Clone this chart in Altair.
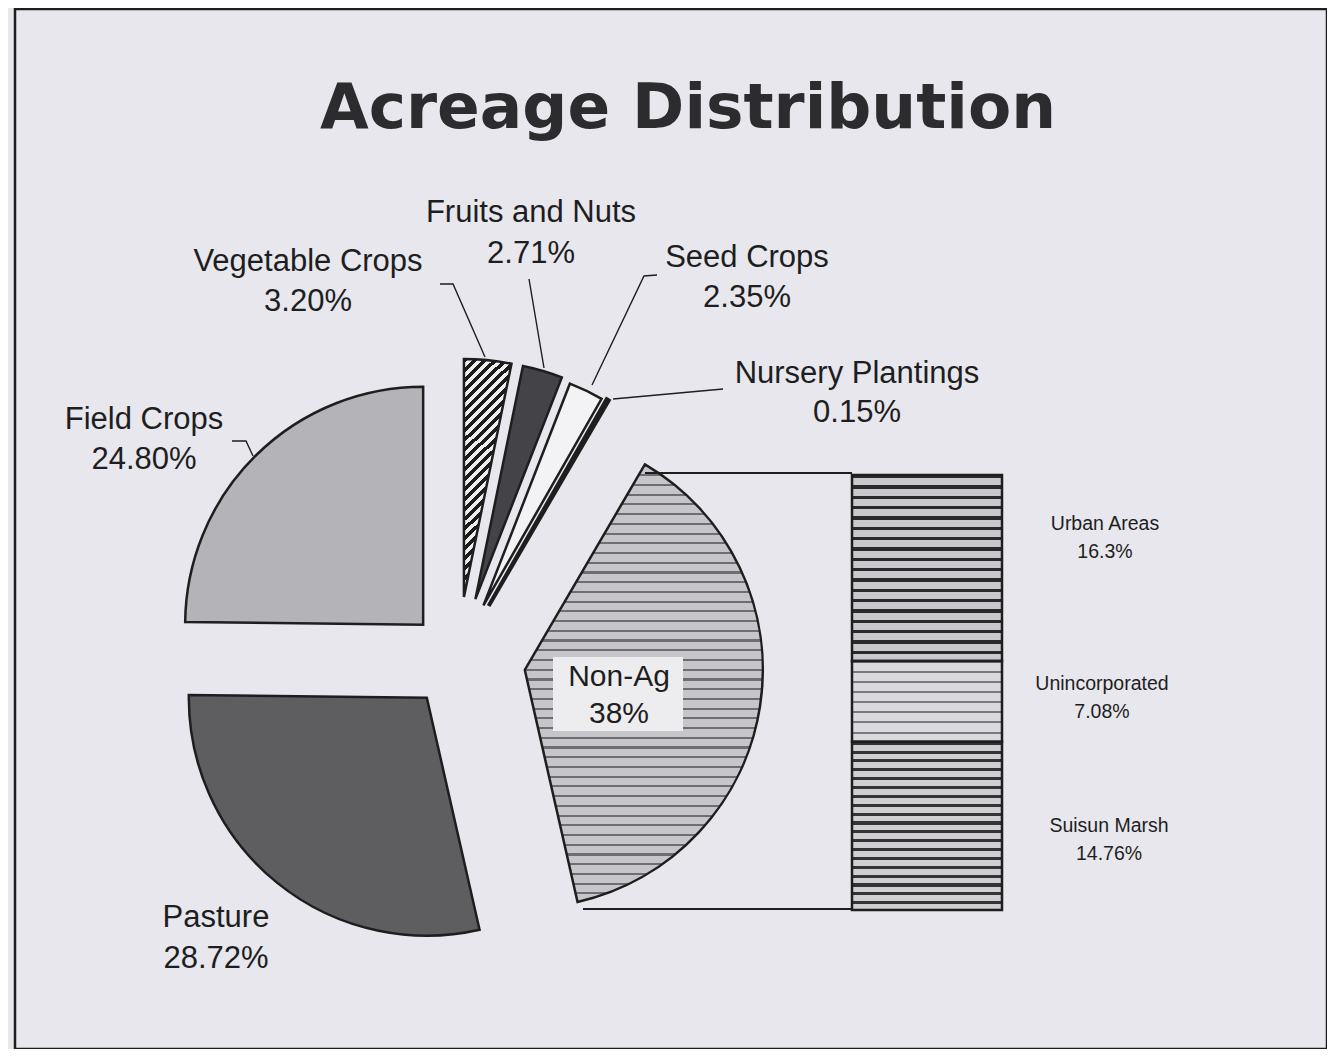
import altair as alt
import pandas as pd

# ---------------- data ----------------
title_text = "Acreage Distribution"

pie_categories = ["Vegetable Crops", "Fruits and Nuts", "Seed Crops",
                  "Nursery Plantings", "Non-Ag", "Pasture", "Field Crops"]
pie_values = [3.20, 2.71, 2.35, 0.15, 38.0, 28.72, 24.80]
pie_pct_labels = ["3.20%", "2.71%", "2.35%", "0.15%", "38%", "28.72%", "24.80%"]

bar_categories = ["Urban Areas", "Unincorporated", "Suisun Marsh"]
bar_values = [16.3, 7.08, 14.76]
bar_pct_labels = ["16.3%", "7.08%", "14.76%"]

# ---------------- layout / style ----------------
OX, OY = 15, 9          # page position of the plot origin (frame corner)
W, H = 1312, 1040
BG = "#e7e7ed"
INK = "#1e1e1e"


def P(x, y):
    return x - OX, y - OY


PIE_CX, PIE_CY = P(457.6, 659.6)
PIE_R = 238
explode = {"Vegetable Crops": 63, "Fruits and Nuts": 63, "Seed Crops": 60,
           "Nursery Plantings": 62, "Non-Ag": 68, "Pasture": 49, "Field Crops": 49}
stroke_w = {"Nursery Plantings": 4.0}

BAR_X0, BAR_X1 = 852 - OX, 1002 - OX
BAR_TOP, BAR_BOTTOM = 475 - OY, 910 - OY


def stripes(n, dark, light, frac, x2=0.0, y2=1.0):
    stops = []
    for i in range(n):
        a, b, c = i / n, (i + frac) / n, (i + 1) / n
        stops += [alt.GradientStop(offset=round(a, 5), color=dark),
                  alt.GradientStop(offset=round(b, 5), color=dark),
                  alt.GradientStop(offset=round(b, 5), color=light),
                  alt.GradientStop(offset=round(c, 5), color=light)]
    return alt.LinearGradient(gradient="linear", stops=stops, x1=0, y1=0, x2=x2, y2=y2)


fills = {
    "Vegetable Crops": stripes(25, "#1c1c1c", "#eeeeee", 0.5, x2=0.196, y2=1.0),
    "Fruits and Nuts": "#444448",
    "Seed Crops": "#f3f3f6",
    "Nursery Plantings": "#2a2a2a",
    "Non-Ag": stripes(45, "#6e6e72", "#c6c6ca", 0.22),
    "Pasture": "#5e5e61",
    "Field Crops": "#b4b4b8",
    "Urban Areas": stripes(18, "#2a2a2a", "#c9c9cd", 0.32),
    "Unincorporated": stripes(8, "#7a7a7e", "#dadade", 0.2),
    "Suisun Marsh": stripes(19, "#333333", "#cfcfd3", 0.35),
}

label_pos = {  # page coords: centre x, baseline of line 1, baseline of line 2
    "Field Crops": (144, 429, 469),
    "Pasture": (216, 927, 968),
    "Vegetable Crops": (308, 271, 311),
    "Fruits and Nuts": (531, 222, 263),
    "Seed Crops": (747, 267, 307),
    "Nursery Plantings": (857, 383, 422),
    "Non-Ag": (619, 686, 723),
    "Urban Areas": (1105, 530, 558),
    "Unincorporated": (1102, 690, 718),
    "Suisun Marsh": (1109, 832, 860),
}

leaders = {  # annotation leader lines, page coords
    "Field Crops": [(232, 441), (246, 441), (253, 456)],
    "Vegetable Crops": [(440, 284), (453, 284), (485, 357)],
    "Fruits and Nuts": [(529, 279), (544, 368)],
    "Seed Crops": [(657, 275), (644, 276), (592, 385)],
    "Nursery Plantings": [(723, 389), (613, 399)],
}
connectors = {
    "top": [(645, 473), (852, 473)],
    "bottom": [(583, 909), (851, 909)],
}

# ---------------- tables ----------------
pie_df = pd.DataFrame({"category": pie_categories, "value": pie_values,
                       "order": list(range(len(pie_categories)))})
pie_df["explode"] = pie_df["category"].map(explode)

bar_df = pd.DataFrame({"category": bar_categories, "value": bar_values,
                       "stack_order": [2, 1, 0]})
BAR_TOTAL = float(sum(bar_values))

rows = []
for cat, pct in list(zip(pie_categories, pie_pct_labels)) + list(zip(bar_categories, bar_pct_labels)):
    x, y1, y2 = label_pos[cat]
    grp = "bar" if cat in bar_categories else ("inner" if cat == "Non-Ag" else "main")
    rows.append({"text": cat, "x": x - OX, "y": y1 - OY, "grp": grp})
    rows.append({"text": pct, "x": x - OX, "y": y2 - OY, "grp": grp})
lab_df = pd.DataFrame(rows)

line_rows = []
for name, pts in leaders.items():
    for k, (x, y) in enumerate(pts):
        line_rows.append({"id": name, "k": k, "x": x - OX, "y": y - OY})
lead_df = pd.DataFrame(line_rows)
conn_rows = []
for name, pts in connectors.items():
    for k, (x, y) in enumerate(pts):
        conn_rows.append({"id": name, "k": k, "x": x - OX, "y": y - OY})
conn_df = pd.DataFrame(conn_rows)

# ---------------- pie (exploded) ----------------
pie_base = (
    alt.Chart(pie_df)
    .transform_joinaggregate(total="sum(value)")
    .transform_window(cum="sum(value)", sort=[alt.SortField("order")], frame=[None, 0])
    .transform_calculate(t0="(datum.cum - datum.value) / datum.total * 2 * PI")
    .transform_calculate(t1="datum.cum / datum.total * 2 * PI")
    .transform_calculate(mid="(datum.t0 + datum.t1) / 2")
    .transform_calculate(cx=f"{PIE_CX} + datum.explode * sin(datum.mid)")
    .transform_calculate(cy=f"{PIE_CY} - datum.explode * cos(datum.mid)")
)

layers = []
for cat in pie_categories:
    layers.append(
        pie_base.transform_filter(alt.datum.category == cat)
        .mark_arc(radius=PIE_R, fill=fills[cat], stroke=INK,
                  strokeWidth=stroke_w.get(cat, 2.5), strokeJoin="miter")
        .encode(
            x=alt.X("cx:Q", scale=None, axis=None),
            y=alt.Y("cy:Q", scale=None, axis=None),
            theta=alt.Theta("t0:Q", scale=None),
            theta2=alt.Theta2("t1:Q"),
        )
    )

# ---------------- bar of pie ----------------
bar_base = (
    alt.Chart(bar_df)
    .transform_window(cum="sum(value)", sort=[alt.SortField("stack_order")], frame=[None, 0])
    .transform_calculate(lo="datum.cum - datum.value")
)
for cat in bar_categories:
    layers.append(
        bar_base.transform_filter(alt.datum.category == cat)
        .mark_rect(fill=fills[cat], stroke=INK, strokeWidth=2.5)
        .encode(
            x=alt.value(BAR_X0), x2=alt.value(BAR_X1),
            y=alt.Y("lo:Q", axis=None,
                    scale=alt.Scale(domain=[0, BAR_TOTAL], range=[BAR_BOTTOM, BAR_TOP])),
            y2=alt.Y2("cum:Q"),
        )
    )

# connector lines and leader lines
layers.append(
    alt.Chart(conn_df).mark_line(stroke=INK, strokeWidth=2.2).encode(
        x=alt.X("x:Q", scale=None, axis=None), y=alt.Y("y:Q", scale=None, axis=None),
        detail="id:N", order="k:Q")
)
layers.append(
    alt.Chart(lead_df).mark_line(stroke=INK, strokeWidth=1.4).encode(
        x=alt.X("x:Q", scale=None, axis=None), y=alt.Y("y:Q", scale=None, axis=None),
        detail="id:N", order="k:Q")
)

# Non-Ag label backdrop
layers.append(
    alt.Chart(pd.DataFrame({"a": [0]})).mark_rect(fill="#ededf0").encode(
        x=alt.value(553 - OX), x2=alt.value(683 - OX),
        y=alt.value(657 - OY), y2=alt.value(731 - OY))
)

# texts
for grp, size in [("main", 31), ("inner", 30), ("bar", 19.5)]:
    layers.append(
        alt.Chart(lab_df).transform_filter(alt.datum.grp == grp)
        .mark_text(font="Liberation Sans", fontSize=size, color=INK,
                   align="center", baseline="alphabetic")
        .encode(x=alt.X("x:Q", scale=None, axis=None),
                y=alt.Y("y:Q", scale=None, axis=None), text="text:N")
    )

layers.append(
    alt.Chart(pd.DataFrame({"t": [title_text], "x": [688 - OX], "y": [128 - OY]}))
    .mark_text(font="DejaVu Sans", fontWeight="bold", fontSize=63, color="#2c2c2e",
               align="center", baseline="alphabetic")
    .encode(x=alt.X("x:Q", scale=None, axis=None),
            y=alt.Y("y:Q", scale=None, axis=None), text="t:N")
)

chart = (
    alt.layer(*layers)
    .resolve_scale(x="independent", y="independent")
    .properties(width=W, height=H, autosize=alt.AutoSizeParams(type="none"),
                padding={"left": OX - 8, "top": OY - 8, "right": 0, "bottom": 0},
                background=BG)
    .configure_view(stroke=INK, strokeWidth=2.5, fill=BG)
)

chart.save("out.html", embed_options={"renderer": "svg", "actions": False})
